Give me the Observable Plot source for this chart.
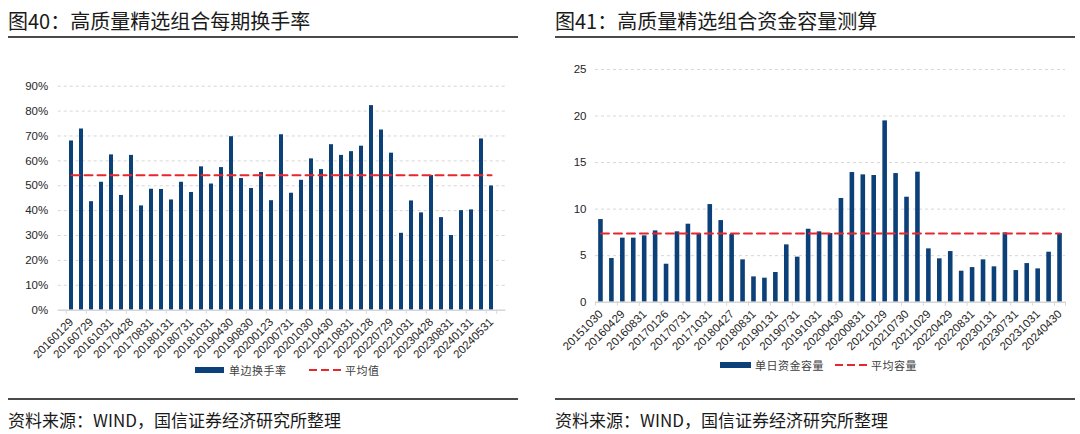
<!DOCTYPE html>
<html><head><meta charset="utf-8">
<script src="https://cdn.jsdelivr.net/npm/d3@7"></script>
<script src="https://cdn.jsdelivr.net/npm/@observablehq/plot@0.6"></script>
<style>
body{margin:0;background:#fff;}
#root{position:relative;width:1080px;height:434px;overflow:hidden;font-family:"Noto Sans CJK SC",sans-serif;}
.title{position:absolute;top:7px;font-size:20px;color:#1a1a1a;white-space:nowrap;line-height:28px;}
.hline{position:absolute;height:2px;background:#4a4a4a;}
.foot{position:absolute;top:408px;font-size:17px;color:#1a1a1a;white-space:nowrap;line-height:24px;}
.chart{position:absolute;top:0;}
.leg{position:absolute;font-size:11px;color:#404040;white-space:nowrap;line-height:14px;letter-spacing:0.5px;}
.sw{position:absolute;height:6px;background:#0b4178;}
.dsh{position:absolute;}
</style></head>
<body>
<div id="root">
  <div class="title" style="left:8px">图40：高质量精选组合每期换手率</div>
  <div class="hline" style="left:8px;top:36px;width:510px"></div>
  <div class="title" style="left:555px">图41：高质量精选组合资金容量测算</div>
  <div class="hline" style="left:555px;top:36px;width:520px"></div>
  <div id="c1" class="chart" style="left:0px"></div>
  <div id="c2" class="chart" style="left:540px"></div>
  <div class="sw" style="left:195px;top:367px;width:29px"></div>
  <div class="leg" style="left:229px;top:363px">单边换手率</div>
  <svg class="dsh" style="left:309px;top:369px" width="34" height="3"><line x1="0" y1="1" x2="33" y2="1" stroke="#e8262e" stroke-width="2" stroke-dasharray="8,4"/></svg>
  <div class="leg" style="left:345px;top:363px">平均值</div>
  <div class="sw" style="left:720px;top:362px;width:31px"></div>
  <div class="leg" style="left:755px;top:358px">单日资金容量</div>
  <svg class="dsh" style="left:835px;top:364px" width="34" height="3"><line x1="0" y1="1" x2="33" y2="1" stroke="#e8262e" stroke-width="2" stroke-dasharray="8,4"/></svg>
  <div class="leg" style="left:871px;top:358px">平均容量</div>
  <div class="hline" style="left:8px;top:398px;width:510px"></div>
  <div class="foot" style="left:8px">资料来源：WIND，国信证券经济研究所整理</div>
  <div class="hline" style="left:555px;top:398px;width:520px"></div>
  <div class="foot" style="left:555px">资料来源：WIND，国信证券经济研究所整理</div>
</div>
<script>
// ---- Left chart: 每期换手率 (%)
const turnoverDates = ["20160129","20160429","20160729","20160831","20161031","20170126","20170428","20170731","20170831","20171031","20180131","20180427","20180731","20180831","20181031","20190131","20190430","20190731","20190830","20191031","20200123","20200430","20200731","20200831","20201030","20210129","20210430","20210730","20210831","20211029","20220128","20220429","20220729","20220831","20221031","20230131","20230428","20230731","20230831","20231031","20240131","20240430","20240531"];
const turnoverValues = [68.0,72.8,43.6,51.4,62.4,46.1,62.2,41.9,48.6,48.5,44.3,51.4,47.3,57.6,50.7,57.3,69.7,52.9,48.9,55.3,44.0,70.5,47.0,52.2,60.8,56.5,66.5,62.2,63.7,65.9,82.2,72.4,63.1,30.9,43.9,39.1,54.1,37.2,30.0,40.0,40.3,68.8,49.9];
const turnoverAvg = 54.2;
const turnoverLabels = ["20160129","20160729","20161031","20170428","20170831","20180131","20180731","20181031","20190430","20190830","20200123","20200731","20201030","20210430","20210831","20220128","20220729","20221031","20230428","20230831","20240131","20240531"];
const turnoverTicks = [0,10,20,30,40,50,60,70,80,90];

// ---- Right chart: 资金容量 (单日)
const capacityDates = ["20151030","20160129","20160429","20160729","20160831","20161031","20170126","20170428","20170731","20170831","20171031","20180131","20180427","20180731","20180831","20181031","20190131","20190430","20190731","20190830","20191031","20200123","20200430","20200731","20200831","20201030","20210129","20210430","20210730","20210831","20211029","20220128","20220429","20220729","20220831","20221031","20230131","20230428","20230731","20230831","20231031","20240131","20240430"];
const capacityValues = [8.88,4.69,6.88,6.88,7.13,7.66,4.08,7.56,8.38,7.38,10.49,8.77,7.27,4.55,2.72,2.58,3.19,6.16,4.84,7.84,7.56,7.38,11.14,13.93,13.68,13.61,19.48,13.82,11.28,13.97,5.73,4.66,5.44,3.33,3.72,4.55,3.80,7.45,3.40,4.15,3.58,5.37,7.38];
const capacityAvg = 7.38;
const capacityLabels = ["20151030","20160429","20160831","20170126","20170731","20171031","20180427","20180831","20190131","20190731","20191031","20200430","20200831","20210129","20210730","20211029","20220429","20220831","20230131","20230731","20231031","20240430"];
const capacityTicks = [0,5,10,15,20,25];

function makeChart(o) {
  const {dates, values, avg, labels, yTicks, fmt, width, height, mL, mR, mT, mB, yPad} = o;
  const n = dates.length;
  const step = (width - mL - mR) / n;
  const yDomain = [yTicks[0], yTicks[yTicks.length - 1]];
  const plotH = height - mT - mB;
  const tickLen = (yDomain[1] - yDomain[0]) * 4 / plotH;
  const data = dates.map((d, i) => ({date: d, value: values[i]}));
  const tickDates = dates.filter((d, i) => i % 2 === 0);
  return Plot.plot({
    width, height, marginLeft: mL, marginRight: mR, marginTop: mT, marginBottom: mB,
    style: {fontFamily: "'Liberation Sans', Arial, sans-serif", fontSize: "11.5px", color: "#262626", background: "transparent", overflow: "visible"},
    x: {type: "band", domain: dates, paddingInner: 0.58, paddingOuter: 0.29, axis: null, label: null},
    y: {domain: yDomain, axis: null, label: null},
    marks: [
      Plot.gridY(yTicks.filter(t => t > yDomain[0]), {stroke: "#d6d6d6", strokeOpacity: 1, strokeDasharray: "3,3"}),
      Plot.barY(data, {x: "date", y: "value", fill: "#0b4178"}),
      Plot.ruleY([yDomain[0]], {stroke: "#d6d6d6", strokeWidth: 1.5}),
      Plot.ruleX(tickDates, {x: d => d, y1: yDomain[0], y2: yDomain[0] - tickLen, dx: -step / 2, stroke: "#d6d6d6"}),
      Plot.ruleX([dates[n - 1]], {x: d => d, y1: yDomain[0], y2: yDomain[0] - tickLen, dx: step / 2, stroke: "#d6d6d6"}),
      Plot.lineY(dates, {x: d => d, y: () => avg, stroke: "#e8262e", strokeWidth: 2, strokeDasharray: "8,5"}),
      Plot.axisY(yTicks, {tickSize: 0, tickPadding: yPad, tickFormat: fmt, fontSize: 11.5, fill: "#262626", label: null}),
      Plot.axisX(labels, {tickSize: 0, tickRotate: -45, tickPadding: 10, fontSize: 11.5, fill: "#262626", label: null})
    ]
  });
}

document.getElementById("c1").append(makeChart({
  dates: turnoverDates, values: turnoverValues, avg: turnoverAvg, labels: turnoverLabels,
  yTicks: turnoverTicks, fmt: d => d + "%", width: 540, height: 362,
  mL: 57.7, mR: 34.5, mT: 85.7, mB: 52.3, yPad: 10
}));
document.getElementById("c2").append(makeChart({
  dates: capacityDates, values: capacityValues, avg: capacityAvg, labels: capacityLabels,
  yTicks: capacityTicks, fmt: d => String(d), width: 540, height: 362,
  mL: 55, mR: 15, mT: 69, mB: 60.3, yPad: 9
}));
</script>
</body></html>
